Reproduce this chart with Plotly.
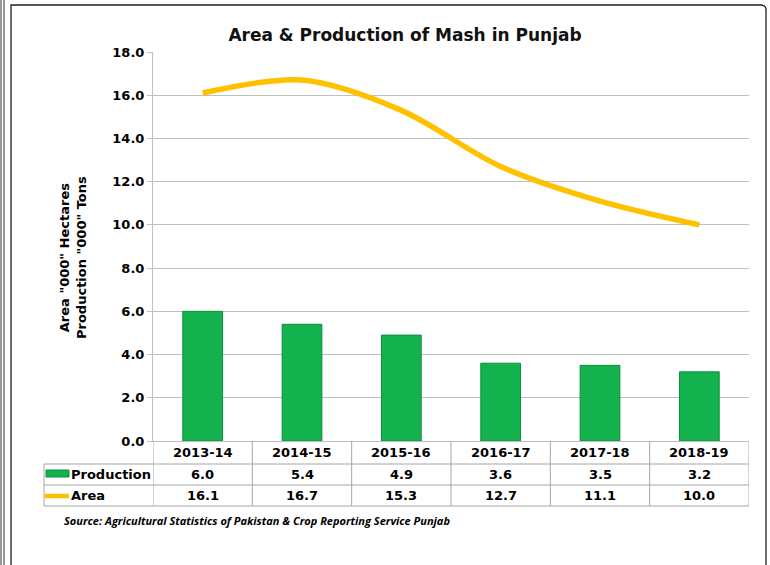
import plotly.graph_objects as go

# Mash crop in Punjab: area ('000 hectares) and production ('000 tons)
years = ["2013-14", "2014-15", "2015-16", "2016-17", "2017-18", "2018-19"]
production = [6.0, 5.4, 4.9, 3.6, 3.5, 3.2]
area = [16.1, 16.7, 15.3, 12.7, 11.1, 10.0]
y_ticks = [0, 2, 4, 6, 8, 10, 12, 14, 16, 18]

W, H = 770, 565
ML, MR, MT, MB = 153, 21, 52, 124
PW, PH = W - ML - MR, H - MT - MB


def px(x):
    return (x - ML) / PW


def py(y):
    return (H - MB - y) / PH


BOLD = "DejaVu Sans"
GRID = "#BFBFBF"
TABLE = "#A6A6A6"
GREEN = "#14B24F"
YELLOW = "#FFC000"

idx = list(range(len(years)))

fig = go.Figure()
fig.add_trace(go.Bar(
    x=idx, y=production, name="Production", width=0.4,
    marker=dict(color=GREEN, line=dict(color="#0C8F3E", width=1)),
    showlegend=False,
))
fig.add_trace(go.Scatter(
    x=idx, y=area, name="Area", mode="lines",
    line=dict(color=YELLOW, width=5.5, shape="spline", smoothing=0.9),
    showlegend=False,
))

shapes = []
annotations = []

# data table: horizontal rules
for yy in (464, 485, 506):
    shapes.append(dict(type="line", xref="paper", yref="paper",
                       x0=px(44), x1=px(749), y0=py(yy), y1=py(yy),
                       line=dict(color=TABLE, width=1)))
# data table: vertical rules at category boundaries
for k in range(len(years) + 1):
    shapes.append(dict(type="line", xref="x", yref="paper",
                       x0=k - 0.5, x1=k - 0.5, y0=py(441), y1=py(506),
                       line=dict(color=TABLE, width=1)))
shapes.append(dict(type="line", xref="paper", yref="paper",
                   x0=px(44), x1=px(44), y0=py(464), y1=py(506),
                   line=dict(color=TABLE, width=1)))

# legend keys inside the table
shapes.append(dict(type="rect", xref="paper", yref="paper",
                   x0=px(46), x1=px(69), y0=py(477), y1=py(470),
                   fillcolor=GREEN, line=dict(color="#0C8F3E", width=1)))
shapes.append(dict(type="line", xref="paper", yref="paper",
                   x0=px(45), x1=px(69), y0=py(496), y1=py(496),
                   line=dict(color=YELLOW, width=4.5)))

# frame lines
for xx in (1, 4):
    shapes.append(dict(type="line", xref="paper", yref="paper",
                       x0=px(xx), x1=px(xx), y0=py(0), y1=py(H),
                       line=dict(color="#333333", width=1)))
shapes.append(dict(type="path", xref="paper", yref="paper",
                   path=(f"M {px(11)},{py(H)} L {px(11)},{py(5)} "
                         f"L {px(761)},{py(5)} Q {px(766)},{py(5)} {px(766)},{py(10)} "
                         f"L {px(766)},{py(H)}"),
                   line=dict(color="#222222", width=1.3)))

# table text
for i, yr in enumerate(years):
    annotations.append(dict(x=i, y=py(452), xref="x", yref="paper", text=yr,
                            showarrow=False, xanchor="center", yanchor="middle",
                            font=dict(family=BOLD, size=13, color="#000000", weight="bold")))
    annotations.append(dict(x=i, y=py(474), xref="x", yref="paper", text=f"{production[i]:.1f}",
                            showarrow=False, xanchor="center", yanchor="middle",
                            font=dict(family=BOLD, size=13, color="#000000", weight="bold")))
    annotations.append(dict(x=i, y=py(495.5), xref="x", yref="paper", text=f"{area[i]:.1f}",
                            showarrow=False, xanchor="center", yanchor="middle",
                            font=dict(family=BOLD, size=13, color="#000000", weight="bold")))
for label, yy in (("Production", 474), ("Area", 495.5)):
    annotations.append(dict(x=px(69), y=py(yy), xref="paper", yref="paper", text=label,
                            showarrow=False, xanchor="left", yanchor="middle",
                            font=dict(family=BOLD, size=13, color="#000000", weight="bold")))

# y-axis caption
annotations.append(dict(x=px(73), y=py(258), xref="paper", yref="paper",
                        text='Area "000" Hectares<br>Production "000" Tons',
                        textangle=-90, showarrow=False, xanchor="center", yanchor="middle",
                        align="center",
                        font=dict(family=BOLD, size=13, color="#000000", weight="bold")))

# source note
annotations.append(dict(x=px(62), y=py(520), xref="paper", yref="paper",
                        text="Source: Agricultural Statistics of Pakistan & Crop Reporting Service Punjab",
                        showarrow=False, xanchor="left", yanchor="middle",
                        font=dict(family="Open Sans", size=11, color="#000000",
                                  weight="bold", style="italic")))

fig.update_layout(
    width=W, height=H,
    margin=dict(l=ML, r=MR, t=MT, b=MB, pad=0),
    paper_bgcolor="white", plot_bgcolor="white",
    title=dict(text="Area & Production of Mash in Punjab",
               x=px(405), xref="paper", xanchor="center",
               y=1 - 35 / H, yref="container", yanchor="middle",
               font=dict(family=BOLD, size=17, color="#111111", weight="bold")),
    xaxis=dict(range=[-0.5, len(years) - 0.5], showticklabels=False, ticks="",
               showgrid=False, zeroline=False, showline=True, linecolor=GRID, linewidth=1),
    yaxis=dict(range=[0, 18], tickvals=y_ticks,
               ticktext=[f"{v:.1f}" for v in y_ticks],
               showgrid=True, gridcolor=GRID, gridwidth=1, zeroline=False,
               showline=True, linecolor=GRID, linewidth=1,
               ticks="outside", ticklen=5, tickcolor=GRID,
               tickfont=dict(family=BOLD, size=13, color="#000000", weight="bold")),
    shapes=shapes,
    annotations=annotations,
    bargap=0.6,
)

fig.write_html("out.html")
